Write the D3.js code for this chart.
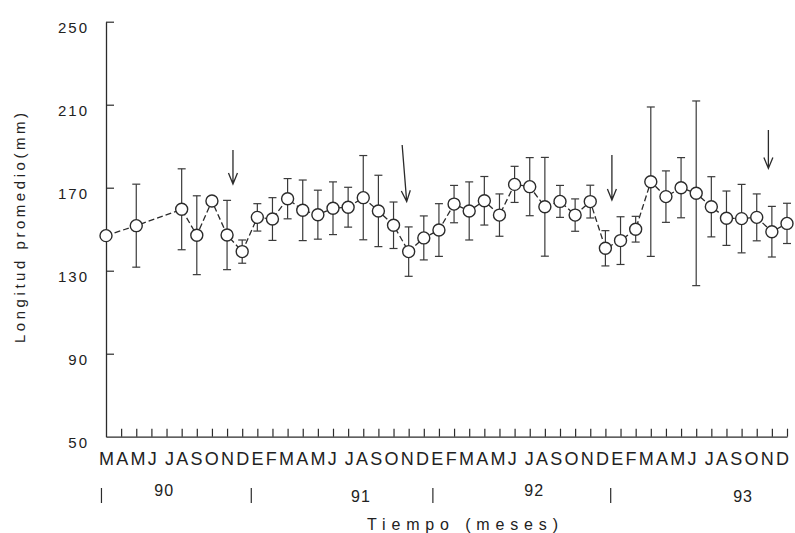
<!DOCTYPE html>
<html>
<head>
<meta charset="utf-8">
<script src="https://cdn.jsdelivr.net/npm/d3@7"></script>
<style>
  html, body { margin: 0; padding: 0; background: #fff; }
  svg { display: block; }
  text { font-family: "Liberation Sans", Arial, Helvetica, sans-serif; fill: #222; }
</style>
</head>
<body>
<svg id="chart" width="795" height="533"></svg>
<script>
// ---- Data ----
const monthTicks = ["M","A","M","J","J","A","S","O","N","D",
  "E","F","M","A","M","J","J","A","S","O","N","D",
  "E","F","M","A","M","J","J","A","S","O","N","D",
  "E","F","M","A","M","J","J","A","S","O","N","D"];
const yearLabels = ["90","91","92","93"];
const yearLabelPos = [3.85, 16.85, 28.3, 42.1];     // month index under which the year is written
const yearSeparators = [-0.3, 9.6, 21.6, 33.35];    // month index of the "|" marks
const meanLength = [146.9, null, 151.7, null, null, 159.6, 147.1, 163.6, 147.2, 139.2,
  155.7, 154.9, 164.7, 159.1, 157.0, 160.1, 160.6, 165.2, 158.8, 151.9, 139.2, 145.8,
  149.6, 162.1, 158.8, 163.7, 156.8, 171.6, 170.5, 160.8, 163.4, 156.8, 163.3, 140.8,
  144.5, 150.0, 172.9, 165.7, 170.0, 167.3, 160.8, 155.3, 155.1, 155.7, 148.8, 152.8];
const sdLength = [null, null, 20.0, null, null, 19.5, 19.0, null, 16.7, 5.6,
  6.6, 10.3, 9.7, 14.6, 11.8, 12.7, 9.6, 20.3, 17.2, 11.2, 11.9, 10.6,
  12.7, 9.0, 14.0, 11.7, 10.2, 8.7, 14.0, 23.8, 7.7, 7.8, 7.9, 8.5,
  11.5, 6.2, 36.0, 12.4, 14.5, 44.5, 14.5, 13.1, 16.5, 11.3, 12.2, 9.7];
const arrowStartIdx = [8.39, 19.57, 33.43, 43.77];
const arrowEndIdx   = [8.39, 19.87, 33.43, 43.77];
const arrowFrom = [188.2, 190.6, 185.8, 197.8];
const arrowTo   = [171.8, 163.3, 164.1, 179.3];
const yTicks = [50, 90, 130, 170, 210, 250];

// ---- Layout ----
const W = 795, H = 533;
const margin = {left: 106, right: 8, top: 21.7, bottom: 96.3};
const svg = d3.select("#chart");
const x = d3.scaleLinear().domain([0, monthTicks.length - 1]).range([margin.left, W - margin.right]);
const y = d3.scaleLinear().domain([50, 250]).range([H - margin.bottom, margin.top]);
const ink = "#2b2b2b";

// Y axis
const yAxis = d3.axisLeft(y).tickValues(yTicks).tickSizeInner(-8).tickSizeOuter(0).tickPadding(17);
const gy = svg.append("g").attr("transform", `translate(${margin.left},0)`).call(yAxis);
gy.select(".domain").attr("stroke", ink).attr("stroke-width", 1.3);
gy.selectAll(".tick line").attr("stroke", ink).attr("stroke-width", 1.2);
gy.selectAll(".tick text").attr("font-size", 15).attr("letter-spacing", "2px")
  .attr("fill", "#222").attr("dy", "0.55em").attr("y", 3)
  .style("font-family", '"Liberation Sans", Arial, sans-serif');
gy.selectAll(".tick").filter(d => d === 50).select("line").remove();

// X axis
const xAxis = d3.axisBottom(x).tickValues(d3.range(1, monthTicks.length)).tickSizeInner(-8).tickSizeOuter(0).tickFormat("");
const gx = svg.append("g").attr("transform", `translate(0,${H - margin.bottom})`).call(xAxis);
gx.select(".domain").attr("stroke", ink).attr("stroke-width", 1.3);
gx.selectAll(".tick line").attr("stroke", ink).attr("stroke-width", 1.2);

// Month letters row
let monthStr = "";
monthTicks.forEach((m, i) => {
  monthStr += m;
  if (m === "J" && monthTicks[i + 1] === "J") monthStr += "\u2009";
});
svg.append("text")
  .attr("x", x(0) - 7).attr("y", 465)
  .attr("font-size", 18)
  .attr("textLength", 690).attr("lengthAdjust", "spacing")
  .text(monthStr);

// Year separators and labels
svg.selectAll("line.sep").data(yearSeparators).enter().append("line")
  .attr("class", "sep")
  .attr("x1", d => x(d)).attr("x2", d => x(d))
  .attr("y1", 488).attr("y2", 503)
  .attr("stroke", ink).attr("stroke-width", 1.2);
svg.selectAll("text.year").data(yearLabels).enter().append("text")
  .attr("class", "year")
  .attr("x", (d, i) => x(yearLabelPos[i]))
  .attr("y", (d, i) => i % 2 === 0 ? 496 : 502)
  .attr("text-anchor", "middle")
  .attr("font-size", 16).attr("letter-spacing", "1px")
  .text(d => d);

// Axis titles
svg.append("text")
  .attr("transform", `translate(25,${228 + 115}) rotate(-90)`)
  .attr("font-size", 15)
  .attr("textLength", 230).attr("lengthAdjust", "spacing")
  .text("Longitud promedio(mm)");
svg.append("text")
  .attr("x", 367).attr("y", 530)
  .attr("font-size", 16)
  .attr("textLength", 191).attr("lengthAdjust", "spacing")
  .text("Tiempo (meses)");

// Data points
const pts = meanLength.map((v, i) => ({i, v, sd: sdLength[i]})).filter(d => d.v !== null);

// Dashed connecting line
const line = d3.line().x(d => x(d.i)).y(d => y(d.v));
svg.append("path").datum(pts)
  .attr("d", line).attr("fill", "none")
  .attr("stroke", ink).attr("stroke-width", 1.3)
  .attr("stroke-dasharray", "6,3");

// Error bars
const eb = svg.append("g").selectAll("g").data(pts.filter(d => d.sd !== null)).enter().append("g")
  .attr("stroke", "#3a3a3a").attr("stroke-width", 1.2);
eb.append("line").attr("x1", d => x(d.i)).attr("x2", d => x(d.i))
  .attr("y1", d => y(d.v + d.sd)).attr("y2", d => y(d.v - d.sd));
eb.append("line").attr("x1", d => x(d.i) - 4).attr("x2", d => x(d.i) + 4)
  .attr("y1", d => y(d.v + d.sd)).attr("y2", d => y(d.v + d.sd));
eb.append("line").attr("x1", d => x(d.i) - 4).attr("x2", d => x(d.i) + 4)
  .attr("y1", d => y(d.v - d.sd)).attr("y2", d => y(d.v - d.sd));

// Circles
svg.append("g").selectAll("circle").data(pts).enter().append("circle")
  .attr("cx", d => x(d.i)).attr("cy", d => y(d.v)).attr("r", 6)
  .attr("fill", "#fff").attr("stroke", ink).attr("stroke-width", 1.4);

// Arrows
const arrows = arrowFrom.map((f, i) => ({
  x1: x(arrowStartIdx[i]), y1: y(f), x2: x(arrowEndIdx[i]), y2: y(arrowTo[i])
}));
const ag = svg.append("g").attr("stroke", ink).attr("stroke-width", 1.3).attr("fill", "none");
arrows.forEach(a => {
  const dx = a.x2 - a.x1, dy = a.y2 - a.y1, len = Math.hypot(dx, dy);
  const ux = dx / len, uy = dy / len;
  const hl = 11, hw = 4.5;
  const bx = a.x2 - ux * hl, by = a.y2 - uy * hl;
  ag.append("path").attr("d",
    `M${a.x1},${a.y1}L${a.x2},${a.y2}` +
    `M${bx - uy * hw},${by + ux * hw}L${a.x2},${a.y2}L${bx + uy * hw},${by - ux * hw}`);
});
</script>
</body>
</html>
